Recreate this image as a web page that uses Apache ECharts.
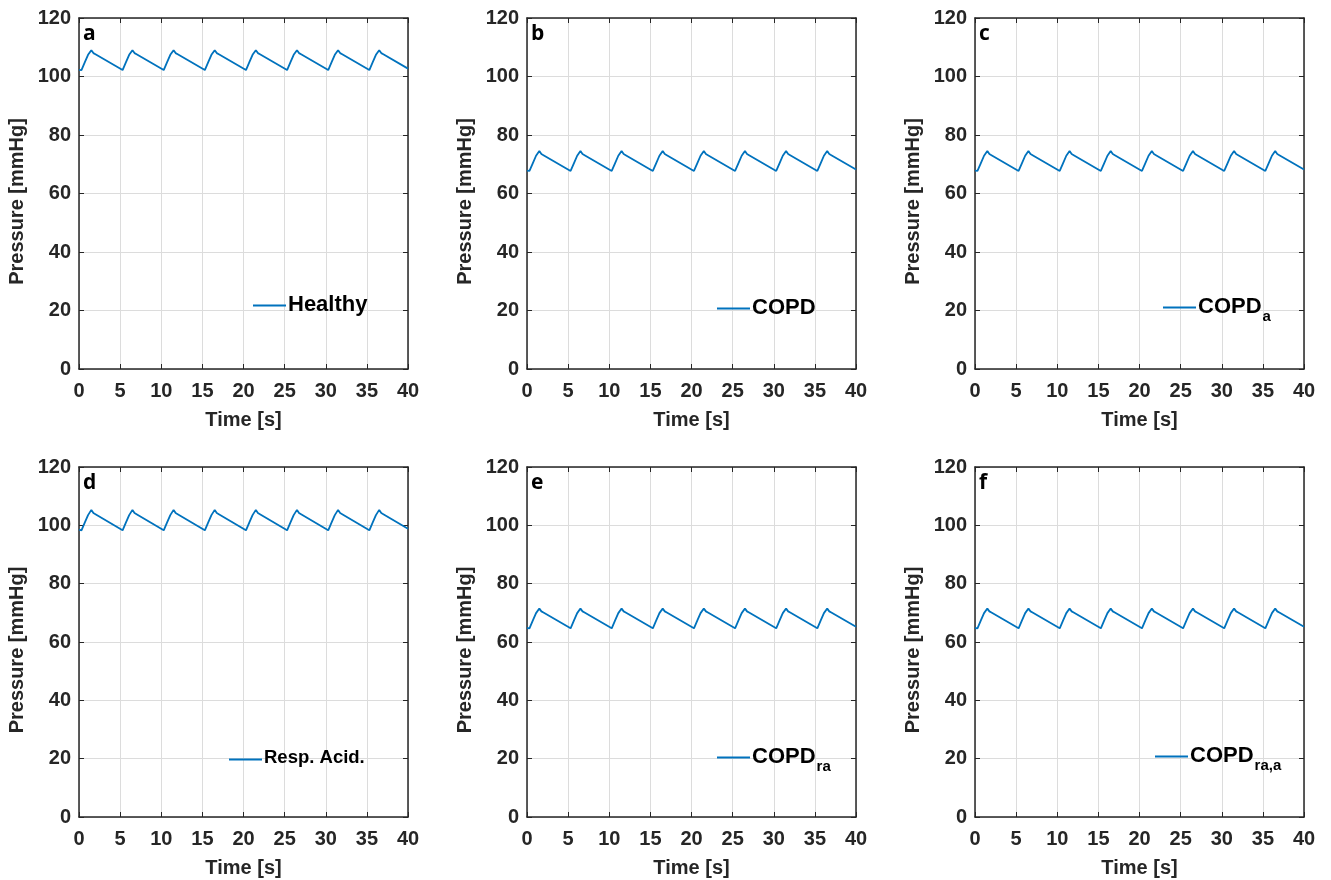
<!DOCTYPE html>
<html>
<head>
<meta charset="utf-8">
<script src="https://cdn.jsdelivr.net/npm/echarts@6/dist/echarts.min.js"></script>
<style>html,body{margin:0;padding:0;background:#fff}#c{width:1331px;height:880px}</style>
</head>
<body>
<div id="c"></div>
<script>
// ---- data ----
const panelLabels = ['a', 'b', 'c', 'd', 'e', 'f'];
const seriesNames = ['Healthy', 'COPD', 'COPD_a', 'Resp. Acid.', 'COPD_ra', 'COPD_ra,a'];
const xTicks = [0, 5, 10, 15, 20, 25, 30, 35, 40];
const yTicks = [0, 20, 40, 60, 80, 100, 120];
const timeS = [0,
  0.3, 0.7, 1.1, 1.5, 1.75, 2.0,
  5.3, 5.7, 6.1, 6.5, 6.75, 7.0,
  10.3, 10.7, 11.1, 11.5, 11.75, 12.0,
  15.3, 15.7, 16.1, 16.5, 16.75, 17.0,
  20.3, 20.7, 21.1, 21.5, 21.75, 22.0,
  25.3, 25.7, 26.1, 26.5, 26.75, 27.0,
  30.3, 30.7, 31.1, 31.5, 31.75, 32.0,
  35.3, 35.7, 36.1, 36.5, 36.75, 37.0,
  40];
const healthy = [102.3,
  102.2, 104.8, 107.4, 109.0, 108.0, 107.6,
  102.2, 104.8, 107.4, 109.0, 108.0, 107.6,
  102.2, 104.8, 107.4, 109.0, 108.0, 107.6,
  102.2, 104.8, 107.4, 109.0, 108.0, 107.6,
  102.2, 104.8, 107.4, 109.0, 108.0, 107.6,
  102.2, 104.8, 107.4, 109.0, 108.0, 107.6,
  102.2, 104.8, 107.4, 109.0, 108.0, 107.6,
  102.2, 104.8, 107.4, 109.0, 108.0, 107.6,
  102.7];
const copd = [67.8,
  67.7, 70.3, 72.9, 74.5, 73.5, 73.1,
  67.7, 70.3, 72.9, 74.5, 73.5, 73.1,
  67.7, 70.3, 72.9, 74.5, 73.5, 73.1,
  67.7, 70.3, 72.9, 74.5, 73.5, 73.1,
  67.7, 70.3, 72.9, 74.5, 73.5, 73.1,
  67.7, 70.3, 72.9, 74.5, 73.5, 73.1,
  67.7, 70.3, 72.9, 74.5, 73.5, 73.1,
  67.7, 70.3, 72.9, 74.5, 73.5, 73.1,
  68.2];
const copdA = [67.8,
  67.7, 70.3, 72.9, 74.5, 73.5, 73.1,
  67.7, 70.3, 72.9, 74.5, 73.5, 73.1,
  67.7, 70.3, 72.9, 74.5, 73.5, 73.1,
  67.7, 70.3, 72.9, 74.5, 73.5, 73.1,
  67.7, 70.3, 72.9, 74.5, 73.5, 73.1,
  67.7, 70.3, 72.9, 74.5, 73.5, 73.1,
  67.7, 70.3, 72.9, 74.5, 73.5, 73.1,
  67.7, 70.3, 72.9, 74.5, 73.5, 73.1,
  68.2];
const respAcid = [98.5,
  98.3, 100.9, 103.5, 105.3, 104.2, 103.8,
  98.3, 100.9, 103.5, 105.3, 104.2, 103.8,
  98.3, 100.9, 103.5, 105.3, 104.2, 103.8,
  98.3, 100.9, 103.5, 105.3, 104.2, 103.8,
  98.3, 100.9, 103.5, 105.3, 104.2, 103.8,
  98.3, 100.9, 103.5, 105.3, 104.2, 103.8,
  98.3, 100.9, 103.5, 105.3, 104.2, 103.8,
  98.3, 100.9, 103.5, 105.3, 104.2, 103.8,
  98.8];
const copdRa = [64.8,
  64.7, 67.3, 69.9, 71.5, 70.5, 70.1,
  64.7, 67.3, 69.9, 71.5, 70.5, 70.1,
  64.7, 67.3, 69.9, 71.5, 70.5, 70.1,
  64.7, 67.3, 69.9, 71.5, 70.5, 70.1,
  64.7, 67.3, 69.9, 71.5, 70.5, 70.1,
  64.7, 67.3, 69.9, 71.5, 70.5, 70.1,
  64.7, 67.3, 69.9, 71.5, 70.5, 70.1,
  64.7, 67.3, 69.9, 71.5, 70.5, 70.1,
  65.2];
const copdRaA = [64.8,
  64.7, 67.3, 69.9, 71.5, 70.5, 70.1,
  64.7, 67.3, 69.9, 71.5, 70.5, 70.1,
  64.7, 67.3, 69.9, 71.5, 70.5, 70.1,
  64.7, 67.3, 69.9, 71.5, 70.5, 70.1,
  64.7, 67.3, 69.9, 71.5, 70.5, 70.1,
  64.7, 67.3, 69.9, 71.5, 70.5, 70.1,
  64.7, 67.3, 69.9, 71.5, 70.5, 70.1,
  64.7, 67.3, 69.9, 71.5, 70.5, 70.1,
  65.2];
const allSeries = [healthy, copd, copdA, respAcid, copdRa, copdRaA];

// ---- layout (not data) ----
const colLeft = [79, 527, 975];
const rowTop = [18, 467];
const gridW = 329, gridH = [351, 350];
const legendPos = [[253, 294], [717, 297], [1163, 296], [229, 748], [717, 746], [1155, 745]];
const legendFont = [22, 22, 22, 18.5, 22, 22];
const legendLabels = ['{m|Healthy}', '{m|COPD}', '{m|COPD}{s|a}', '{m|Resp. Acid.}', '{m|COPD}{s|ra}', '{m|COPD}{s|ra,a}'];

const dark = '#262626';
const FONT = '"Liberation Sans", Arial, sans-serif';
const blue = '#0072BD';

const grids = [], xAxes = [], yAxes = [], series = [], legends = [], titles = [];
for (let i = 0; i < 6; i++) {
  const r = Math.floor(i / 3), c = i % 3;
  grids.push({left: colLeft[c], top: rowTop[r], width: gridW, height: gridH[r], show: false, containLabel: false});
  const common = {gridIndex: i, type: 'value', min: xTicks[0], max: xTicks[xTicks.length - 1], interval: 5};
  xAxes.push(Object.assign({}, common, {
    position: 'bottom',
    name: 'Time [s]', nameLocation: 'middle', nameGap: 41,
    nameTextStyle: {fontFamily: FONT, fontWeight: 'bold', fontSize: 20, color: dark},
    axisLine: {show: true, onZero: false, lineStyle: {color: dark, width: 1.5}},
    axisTick: {show: true, inside: true, length: 5, lineStyle: {color: dark}},
    axisLabel: {show: true, margin: 12, fontFamily: FONT, fontWeight: 'bold', fontSize: 20, color: dark},
    splitLine: {show: true, lineStyle: {color: '#dcdcdc', width: 1}}
  }));
  xAxes.push(Object.assign({}, common, {
    position: 'top',
    axisLine: {show: true, onZero: false, lineStyle: {color: dark, width: 1.5}},
    axisTick: {show: true, inside: true, length: 5, lineStyle: {color: dark}},
    axisLabel: {show: false}, splitLine: {show: false}
  }));
  const ycommon = {gridIndex: i, type: 'value', min: yTicks[0], max: yTicks[yTicks.length - 1], interval: 20};
  yAxes.push(Object.assign({}, ycommon, {
    position: 'left',
    name: 'Pressure [mmHg]', nameLocation: 'middle', nameGap: 52,
    nameTextStyle: {fontFamily: FONT, fontWeight: 'bold', fontSize: 20, color: dark, padding: [0, 16, 0, 0]},
    axisLine: {show: true, onZero: false, lineStyle: {color: dark, width: 1.5}},
    axisTick: {show: true, inside: true, length: 5, lineStyle: {color: dark}},
    axisLabel: {show: true, margin: 8, fontFamily: FONT, fontWeight: 'bold', fontSize: 20, color: dark},
    splitLine: {show: true, lineStyle: {color: '#dcdcdc', width: 1}}
  }));
  yAxes.push(Object.assign({}, ycommon, {
    position: 'right',
    axisLine: {show: true, onZero: false, lineStyle: {color: dark, width: 1.5}},
    axisTick: {show: true, inside: true, length: 5, lineStyle: {color: dark}},
    axisLabel: {show: false}, splitLine: {show: false}
  }));
  series.push({
    name: seriesNames[i], type: 'line', xAxisIndex: 2 * i, yAxisIndex: 2 * i,
    data: timeS.map((t, k) => [t, allSeries[i][k]]),
    showSymbol: false, symbol: 'none', smooth: false,
    lineStyle: {color: blue, width: 1.8}, itemStyle: {color: blue},
    animation: false, z: 3
  });
  const lbl = legendLabels[i];
  const fs = legendFont[i];
  legends.push({
    data: [seriesNames[i]], left: legendPos[i][0], top: legendPos[i][1],
    icon: 'rect', itemWidth: 33, itemHeight: 2, itemGap: 0, padding: 0,
    selectedMode: false,
    formatter: () => lbl,
    textStyle: {
      fontFamily: FONT, fontWeight: 'bold', fontSize: fs, color: '#000', padding: [0, 0, 0, -3],
      rich: {
        m: {fontFamily: FONT, fontWeight: 'bold', fontSize: fs, color: '#000', verticalAlign: 'top', lineHeight: 23},
        s: {fontFamily: FONT, fontWeight: 'bold', fontSize: 15, color: '#000', verticalAlign: 'top', lineHeight: 23, padding: [13, 0, 0, 1]}
      }
    }
  });
  titles.push({
    text: panelLabels[i], left: colLeft[c] + 4, top: rowTop[r] + 6, padding: 0,
    textStyle: {fontFamily: '"Open Sans", "DejaVu Sans", sans-serif', fontWeight: 'bold', fontSize: 21, color: '#000'}
  });
}

const chart = echarts.init(document.getElementById('c'), null, {renderer: 'canvas'});
chart.setOption({
  animation: false,
  backgroundColor: '#fff',
  title: titles,
  grid: grids,
  xAxis: xAxes,
  yAxis: yAxes,
  legend: legends,
  series: series
});
</script>
</body>
</html>
